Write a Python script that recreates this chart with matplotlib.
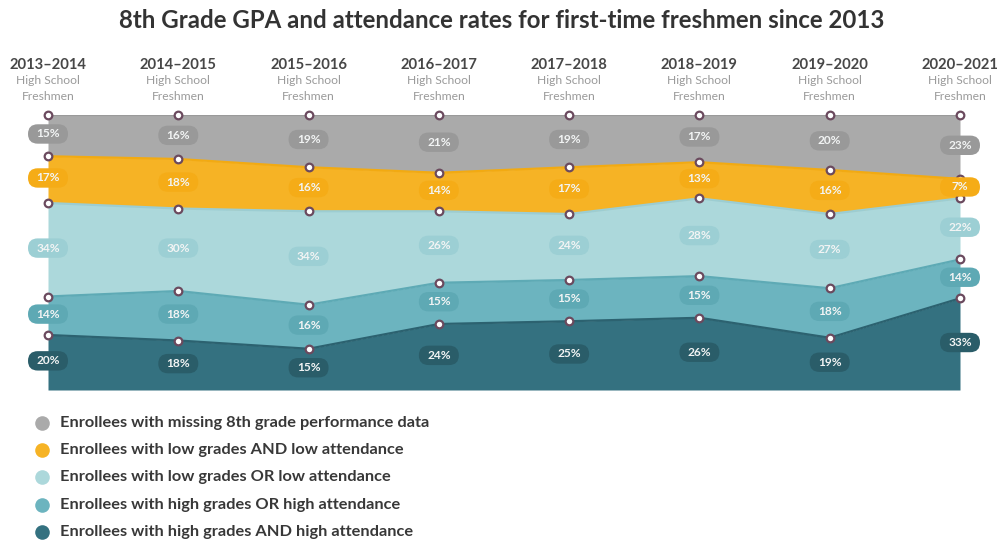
import matplotlib
matplotlib.use('Agg')
from matplotlib import pyplot as plt
from matplotlib import lines
import matplotlib.patches as mpatches
import matplotlib.transforms as mtransforms
import numpy as np

plt.rcParams['font.family'] = ['Lato', 'DejaVu Sans']

years = ['2013\u20132014', '2014\u20132015', '2015\u20132016', '2016\u20132017',
         '2017\u20132018', '2018\u20132019', '2019\u20132020', '2020\u20132021']

# bottom to top
high_and = [20, 18, 15, 24, 25, 26, 19, 33]
high_or = [14, 18, 16, 15, 15, 15, 18, 14]
low_or = [34, 30, 34, 26, 24, 28, 27, 22]
low_and = [17, 18, 16, 14, 17, 13, 16, 7]
missing = [15, 16, 19, 21, 19, 17, 20, 23]

series = [high_and, high_or, low_or, low_and, missing]
names = ['Enrollees with high grades AND high attendance',
         'Enrollees with high grades OR high attendance',
         'Enrollees with low grades OR low attendance',
         'Enrollees with low grades AND low attendance',
         'Enrollees with missing 8th grade performance data']
fills = ['#347180', '#6cb4bf', '#acd8db', '#f6b325', '#aaaaaa']
edges = ['#2c6270', '#5eaab5', '#9ccdd2', '#f2aa12', '#9a9a9a']
pills = ['#2a5d69', '#5ea9b4', '#9ccfd4', '#f5ac17', '#999999']

fig = plt.figure(figsize=(9.99, 5.42), dpi=100)
ax = fig.add_axes([48 / 999, 1 - 390 / 542, 912 / 999, 275 / 542])

x = np.arange(len(years))
vals = np.array(series, dtype=float)
# stack as shares of 100 so every year reaches the top
vals = vals / vals.sum(axis=0) * 100
tops = np.cumsum(vals, axis=0)
bottoms = tops - vals

for i in range(len(series)):
    ax.fill_between(x, bottoms[i], tops[i], color=fills[i], lw=0, zorder=1)
    ax.plot(x, tops[i], color=edges[i], lw=1.6, zorder=2, solid_capstyle='butt')

for i in range(len(series)):
    ax.plot(x, tops[i], ls='none', marker='o', ms=5.5, mfc='white',
            mec='#6b4a5e', mew=1.6, zorder=5, clip_on=False)

# rounded value pills in the middle of each band
for i, s in enumerate(series):
    for j, v in enumerate(s):
        ymid = (bottoms[i][j] + tops[i][j]) / 2 + 0.6
        tr = fig.dpi_scale_trans + mtransforms.ScaledTranslation(x[j], ymid, ax.transData)
        box = mpatches.FancyBboxPatch((-0.2, -0.097), 0.4, 0.194,
                                      boxstyle='round,pad=0,rounding_size=0.097',
                                      transform=tr, fc=pills[i], ec='none',
                                      zorder=6, clip_on=False)
        ax.add_patch(box)
        ax.text(x[j], ymid, '%d%%' % v, ha='center', va='center', fontsize=8.6,
                fontweight='bold', color='#f2f4f4', zorder=7, clip_on=False)

ax.set_xlim(0, len(years) - 1)
ax.set_ylim(0, 100)
ax.axis('off')

# column headers
for j, yr in enumerate(years):
    xf = (48 + j * (912 / 7)) / 999
    fig.text(xf, 1 - 65 / 542, yr, ha='center', va='center', fontsize=10.6,
             fontweight='bold', color='#474747')
    fig.text(xf, 1 - 81 / 542, 'High School', ha='center', va='center',
             fontsize=8.7, color='#9a9a9a')
    fig.text(xf, 1 - 96 / 542, 'Freshmen', ha='center', va='center',
             fontsize=8.7, color='#9a9a9a')

fig.text(502 / 999, 1 - 20 / 542,
         '8th Grade GPA and attendance rates for first-time freshmen since 2013',
         ha='center', va='center', fontsize=17.3, fontweight='bold', color='#333333')

# legend, top row is the top band
for k, i in enumerate(reversed(range(len(series)))):
    yf = 1 - (423 + k * 27.2) / 542
    fig.add_artist(lines.Line2D([42 / 999], [yf], marker='o', ms=10.5,
                                mfc=fills[i], mec='none', ls='none',
                                transform=fig.transFigure))
    fig.text(60 / 999, yf, names[i], ha='left', va='center', fontsize=11.8,
             fontweight='bold', color='#383838')

fig.savefig('out.png', dpi=100)
